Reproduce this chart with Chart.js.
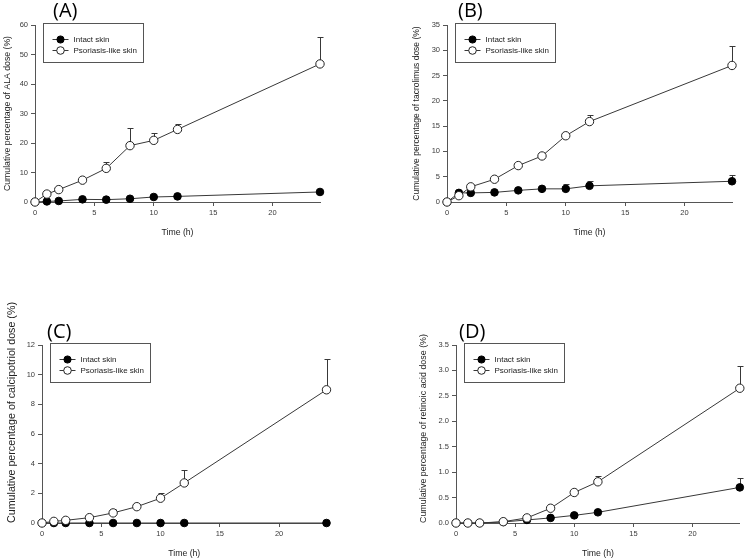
<!DOCTYPE html>
<html><head><meta charset="utf-8">
<script src="https://cdn.jsdelivr.net/npm/chart.js@4.4.0/dist/chart.umd.min.js"></script>
<style>
html,body{margin:0;padding:0;background:#fff;}
body{width:745px;height:559px;position:relative;overflow:hidden;}
canvas{position:absolute;}
</style></head><body>
<canvas id="cA"></canvas><canvas id="cB"></canvas><canvas id="cC"></canvas><canvas id="cD"></canvas>
<script>
// ---------- data ----------
const timeH = [0, 1, 2, 4, 6, 8, 10, 12, 24];
const xTicks = [0, 5, 10, 15, 20];
const seriesNames = ['Intact skin', 'Psoriasis-like skin'];
const xTitle = 'Time (h)';
const panelLabels = ['(A)', '(B)', '(C)', '(D)'];
const yTitles = [
  'Cumulative percentage of ALA dose (%)',
  'Cumulative percentage of tacrolimus dose (%)',
  'Cumulative percentage of calcipotriol dose (%)',
  'Cumulative percentage of retinoic acid dose (%)'
];

// (A) ALA
const alaIntact = [0, 0.2, 0.35, 0.9, 0.8, 1.1, 1.7, 1.9, 3.4];
const alaIntactSD = [0, 0, 0, 0, 0, 0, 0, 0, 0];
const alaPso = [0, 2.7, 4.2, 7.4, 11.4, 19.1, 20.9, 24.6, 46.8];
const alaPsoSD = [0, 0.9, 0, 0, 2.1, 5.9, 2.4, 2.0, 9.0];
const yTicksA = [0, 10, 20, 30, 40, 50, 60];

// (B) tacrolimus
const tacIntact = [0, 1.8, 1.8, 1.9, 2.3, 2.6, 2.6, 3.2, 4.1];
const tacIntactSD = [0, 0, 0, 0, 0, 0, 0.95, 1.0, 1.3];
const tacPso = [0, 1.25, 3.0, 4.5, 7.2, 9.1, 13.1, 15.9, 27.0];
const tacPsoSD = [0, 0, 0, 0, 0, 0, 0.6, 1.3, 3.9];
const yTicksB = [0, 5, 10, 15, 20, 25, 30, 35];

// (C) calcipotriol
const calIntact = [0, 0, 0, 0, 0, 0, 0, 0, 0];
const calIntactSD = [0, 0, 0, 0, 0, 0, 0, 0, 0];
const calPso = [0, 0.11, 0.18, 0.36, 0.68, 1.1, 1.67, 2.7, 8.98];
const calPsoSD = [0, 0, 0, 0, 0.27, 0, 0.38, 0.86, 2.05];
const yTicksC = [0, 2, 4, 6, 8, 10, 12];

// (D) retinoic acid
const raIntact = [0, 0, 0, 0.02, 0.06, 0.1, 0.15, 0.21, 0.7];
const raIntactSD = [0, 0, 0, 0, 0, 0, 0, 0, 0.19];
const raPso = [0, 0, 0, 0.026, 0.1, 0.29, 0.6, 0.81, 2.65];
const raPsoSD = [0, 0, 0, 0, 0, 0, 0, 0.12, 0.44];
const yTicksD = [0, 0.5, 1.0, 1.5, 2.0, 2.5, 3.0, 3.5];

// ---------- drawing ----------
const FONT = '"Liberation Sans", Arial, sans-serif';
const AXIS = '#555';
const INK = '#383838';

function toXY(vals) { return timeH.map((t, i) => ({ x: t, y: vals[i] })); }

const extras = {
  id: 'extras',
  beforeDatasetsDraw(chart) {
    const ctx = chart.ctx, xs = chart.scales.x, ys = chart.scales.y;
    ctx.save();
    ctx.strokeStyle = INK; ctx.lineWidth = 1;
    chart.data.datasets.forEach(ds => {
      if (!ds.errUp) return;
      ds.data.forEach((p, i) => {
        const e = ds.errUp[i];
        if (!e) return;
        const px = Math.round(xs.getPixelForValue(p.x)) + 0.5;
        const py0 = ys.getPixelForValue(p.y);
        const py1 = Math.round(ys.getPixelForValue(p.y + e)) + 0.5;
        ctx.beginPath();
        ctx.moveTo(px, py0); ctx.lineTo(px, py1);
        ctx.moveTo(px - 3, py1); ctx.lineTo(px + 3, py1);
        ctx.stroke();
      });
    });
    ctx.restore();
  },
  afterDraw(chart, args, o) {
    const ctx = chart.ctx, ca = chart.chartArea;
    ctx.save();
    // panel label
    ctx.fillStyle = '#000';
    ctx.font = '20px "Open Sans", "Noto Sans", sans-serif';
    ctx.textBaseline = 'alphabetic';
    ctx.textAlign = 'left';
    ctx.fillText(o.label, o.lx, o.ly);
    // legend box
    const bx = Math.round(ca.left + 8) + 0.5, by = Math.round(ca.top - 2) + 0.5;
    ctx.strokeStyle = AXIS; ctx.lineWidth = 1;
    ctx.strokeRect(bx, by, 100, 39);
    const rows = [[seriesNames[0], true], [seriesNames[1], false]];
    rows.forEach((r, k) => {
      const y = Math.round(by + 15 + k * 11.5) + 0.5;
      ctx.strokeStyle = INK;
      ctx.beginPath(); ctx.moveTo(bx + 9, y); ctx.lineTo(bx + 25, y); ctx.stroke();
      ctx.beginPath(); ctx.arc(bx + 17, y, r[1] ? 3.6 : 3.8, 0, Math.PI * 2);
      ctx.fillStyle = r[1] ? '#000' : '#fff'; ctx.fill();
      ctx.strokeStyle = r[1] ? '#000' : '#222'; ctx.stroke();
      ctx.fillStyle = '#222';
      ctx.font = '8px ' + FONT;
      ctx.textBaseline = 'middle';
      ctx.fillText(r[0], bx + 30, y);
    });
    ctx.restore();
  }
};

function makePanel(id, box, plot, p) {
  const cv = document.getElementById(id);
  cv.width = box.w; cv.height = box.h;
  cv.style.left = box.x + 'px'; cv.style.top = box.y + 'px';
  cv.style.width = box.w + 'px'; cv.style.height = box.h + 'px';
  const L = plot.l - box.x, T = plot.t - box.y, R = box.x + box.w - plot.r, B = plot.b - box.y;
  const yFs = p.yTitleSize, yLh = yFs * 1.2;
  const xFs = 8.7, xLh = xFs * 1.2;
  const yT = p.yTicks;
  new Chart(cv, {
    type: 'line',
    data: {
      datasets: [
        { label: seriesNames[1], data: toXY(p.pso), errUp: p.psoSD, borderColor: INK, borderWidth: 1,
          pointRadius: 4.2, pointHoverRadius: 4.2, pointBackgroundColor: '#fff', pointBorderColor: '#222',
          pointBorderWidth: 1, fill: false, tension: 0, clip: false },
        { label: seriesNames[0], data: toXY(p.intact), errUp: p.intactSD, borderColor: INK, borderWidth: 1,
          pointRadius: 3.8, pointHoverRadius: 3.8, pointBackgroundColor: '#000', pointBorderColor: '#000',
          pointBorderWidth: 1, fill: false, tension: 0, clip: false }
      ]
    },
    options: {
      responsive: false, animation: false, devicePixelRatio: 1,
      events: [],
      layout: { padding: { left: 0, top: T, right: R, bottom: 0 } },
      plugins: {
        legend: { display: false }, tooltip: { enabled: false },
        extras: { label: p.label, lx: p.lx - box.x, ly: p.ly - box.y }
      },
      scales: {
        x: {
          type: 'linear', min: 0, max: 24,
          afterBuildTicks: s => { s.ticks = xTicks.map(v => ({ value: v })); },
          afterFit: s => { s.height = box.h - B; },
          grid: { drawOnChartArea: false, drawTicks: true, tickLength: 4, color: AXIS },
          border: { display: true, color: AXIS, width: 1 },
          ticks: { font: { size: 7.5, family: FONT }, color: '#3a3a3a', padding: 2, maxRotation: 0 },
          title: { display: true, text: xTitle, color: '#222', font: { size: xFs, family: FONT },
                   padding: { top: 0, bottom: Math.max(0, box.h - (p.xTitleY - box.y) - xLh / 2) } }
        },
        y: {
          type: 'linear', min: yT[0], max: yT[yT.length - 1],
          afterBuildTicks: s => { s.ticks = yT.map(v => ({ value: v })); },
          afterFit: s => { s.width = L; },
          grid: { drawOnChartArea: false, drawTicks: true, tickLength: 4, color: AXIS },
          border: { display: true, color: AXIS, width: 1 },
          ticks: { font: { size: 7.5, family: FONT }, color: '#3a3a3a', padding: 3,
                   callback: v => v.toFixed(p.dec) },
          title: { display: true, text: p.yTitle, color: '#222', align: p.yAlign,
                   font: { size: yFs, family: FONT },
                   padding: { top: (p.yTitleX - box.x) - yLh / 2, bottom: 0 } }
        }
      }
    },
    plugins: [extras]
  });
}

makePanel('cA', { x: 0, y: 0, w: 372, h: 245 }, { l: 35, t: 25, r: 320, b: 202 },
  { intact: alaIntact, intactSD: alaIntactSD, pso: alaPso, psoSD: alaPsoSD, yTicks: yTicksA, dec: 0,
    label: panelLabels[0], lx: 53, ly: 17, yTitle: yTitles[0], yTitleSize: 8.7, yAlign: 'center',
    yTitleX: 8, xTitleY: 233 });
makePanel('cB', { x: 372, y: 0, w: 373, h: 245 }, { l: 447, t: 25, r: 732, b: 202 },
  { intact: tacIntact, intactSD: tacIntactSD, pso: tacPso, psoSD: tacPsoSD, yTicks: yTicksB, dec: 0,
    label: panelLabels[1], lx: 458, ly: 17, yTitle: yTitles[1], yTitleSize: 8.5, yAlign: 'center',
    yTitleX: 417, xTitleY: 233 });
makePanel('cC', { x: 0, y: 270, w: 372, h: 289 }, { l: 42, t: 345, r: 326.5, b: 523 },
  { intact: calIntact, intactSD: calIntactSD, pso: calPso, psoSD: calPsoSD, yTicks: yTicksC, dec: 0,
    label: panelLabels[2], lx: 47, ly: 338, yTitle: yTitles[2], yTitleSize: 10.7, yAlign: 'start',
    yTitleX: 12.5, xTitleY: 554 });
makePanel('cD', { x: 372, y: 270, w: 373, h: 289 }, { l: 456, t: 345, r: 741, b: 523 },
  { intact: raIntact, intactSD: raIntactSD, pso: raPso, psoSD: raPsoSD, yTicks: yTicksD, dec: 1,
    label: panelLabels[3], lx: 459, ly: 338, yTitle: yTitles[3], yTitleSize: 8.9, yAlign: 'start',
    yTitleX: 424, xTitleY: 554 });
</script>
</body></html>
